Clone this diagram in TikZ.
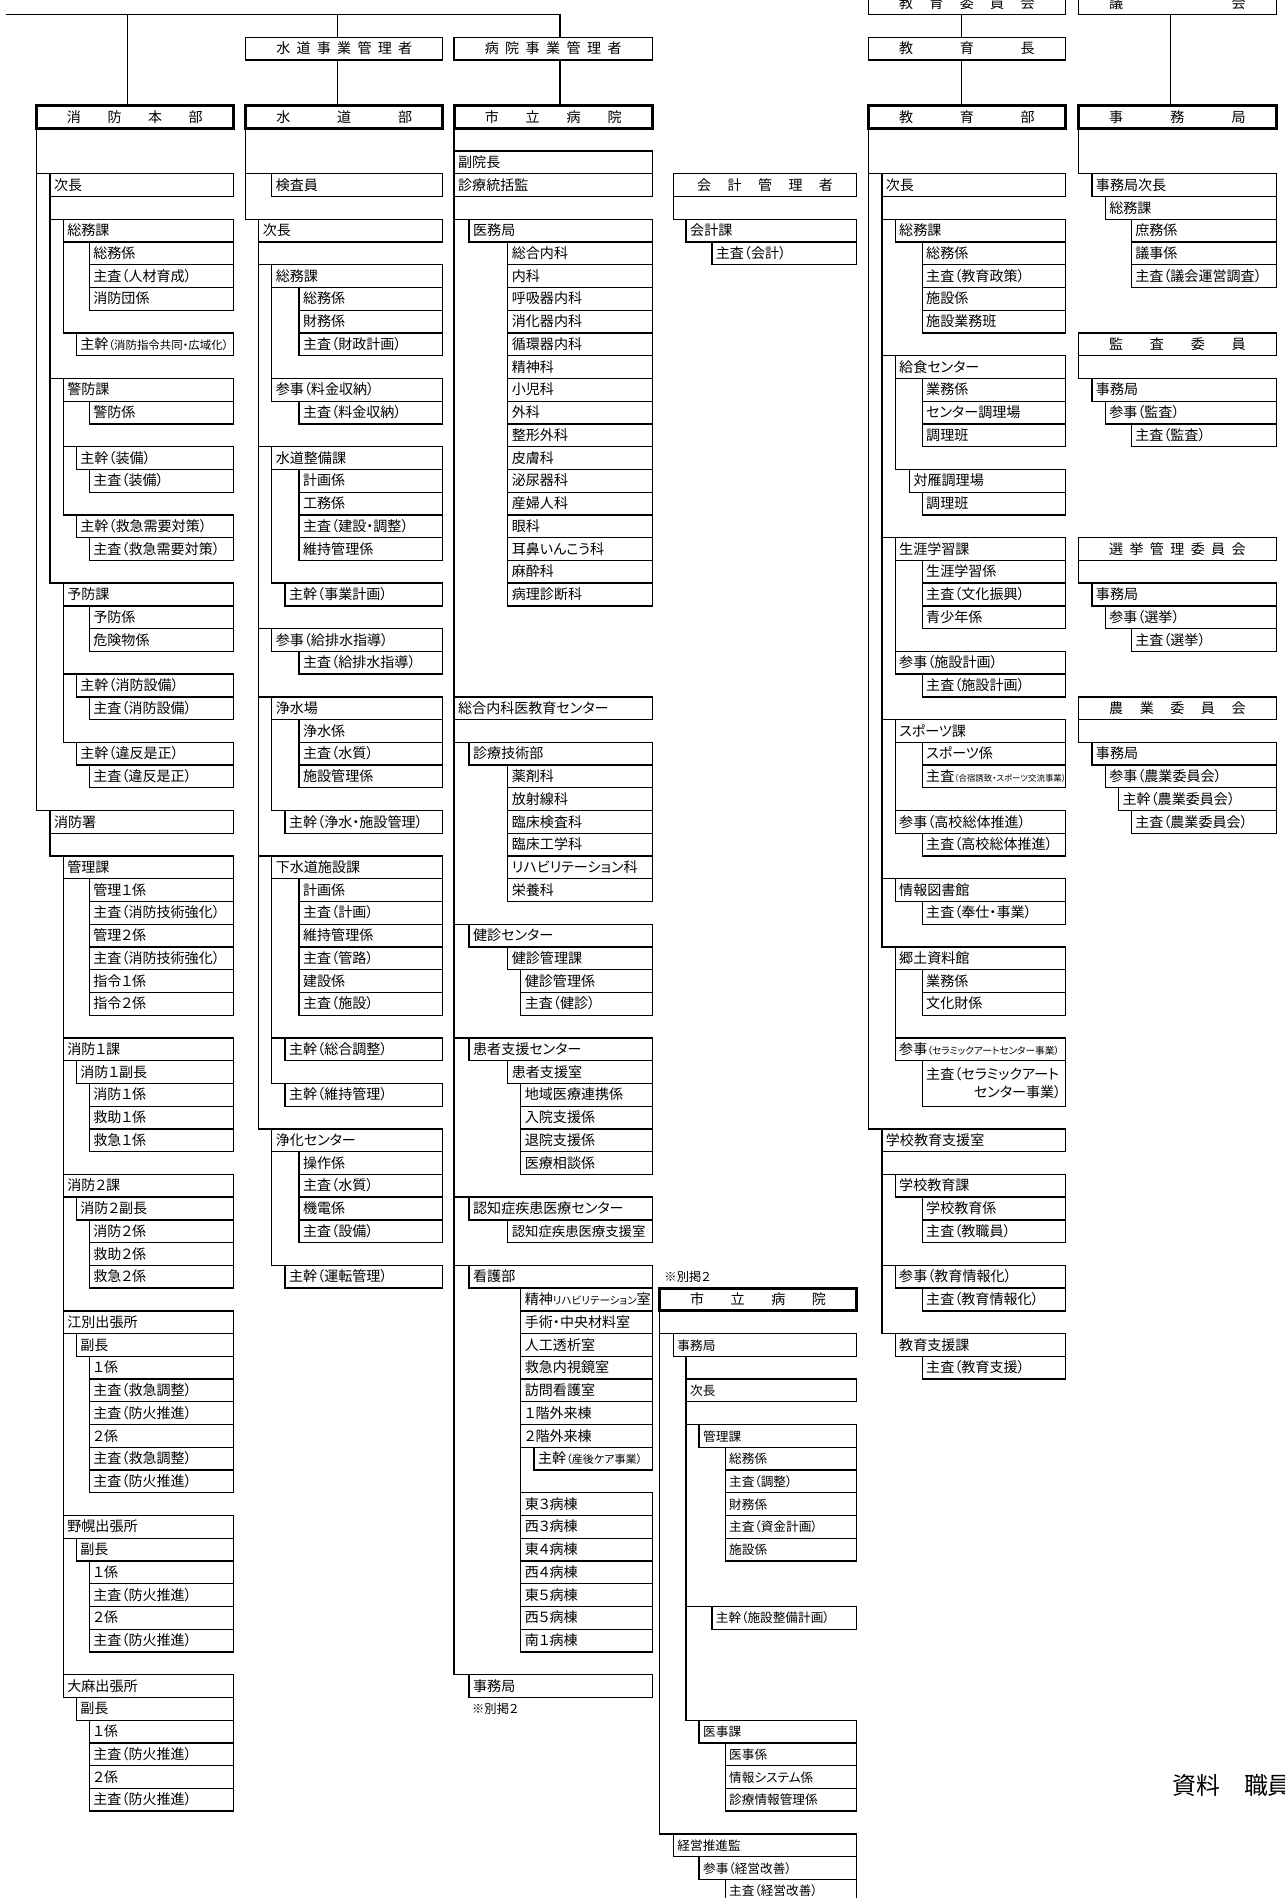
\documentclass[tikz,border=0pt]{standalone}
\usepackage{fontspec}
\setmainfont{Noto Sans CJK JP}[RawFeature=+palt]
\usepackage{tikz}

\tikzset{
  cell/.style={draw, line width=0.75pt, inner xsep=2.3pt, inner ysep=0pt, outer sep=0pt,
    minimum height=0.4548cm, text height=6.9pt, text depth=1.1pt, align=left,
    font=\fontsize{8}{9.6}\selectfont},
  head/.style={draw, line width=0.75pt, inner sep=0pt, outer sep=0pt,
    minimum height=0.4548cm, text height=6.9pt, text depth=1.1pt,
    font=\fontsize{8}{9.6}\selectfont},
  heavy/.style={line width=1.8pt},
  link/.style={line width=0.75pt},
  note/.style={inner sep=0pt, font=\fontsize{7}{8}\selectfont}
}

\newcommand{\sm}[2]{{\fontsize{#1}{#1}\selectfont #2}}
\newcommand{\bx}[5]{%
  \pgfmathsetlengthmacro{\bxw}{(#3-#2)*0.02cm-4.6pt}%
  \node[cell, text width=\bxw, anchor=west] (#1) at (#2,#4) {#5};}
\newcommand{\stk}[5]{%
  \foreach \lbl [count=\i from #4] in {#5} {\bx{#1\i}{#2}{#3}{\i}{\lbl}}}
\newcommand{\hd}[6][]{%
  \pgfmathsetlengthmacro{\hdw}{(#4-#3)*0.02cm}%
  \pgfmathsetlengthmacro{\hdt}{(#4-#3-61.3)*0.02cm}%
  \node[head, #1, minimum width=\hdw, anchor=west] (#2) at (#3,#5) {\hbox to \hdt{#6}};}

\begin{document}
\begin{tikzpicture}[x=0.02cm, y=-0.4548cm]
\useasboundingbox (0,-8.144) rectangle (1284,75.32);

% fire
\hd[heavy]{honbu}{36.3}{233.3}{-3}{消\hfill 防\hfill 本\hfill 部}
\bx{jicho1}{50}{233.3}{0}{次長}
\bx{soumuka1}{63.3}{233.3}{2}{総務課}
\stk{fa}{89.3}{233.3}{3}{総務係,主査（人材育成）,消防団係}
\bx{kansirei}{76.3}{233.3}{7}{主幹\sm{6.5}{（消防指令共同・広域化）}}
\bx{keibo}{63.3}{233.3}{9}{警防課}
\bx{keibokakari}{89.3}{233.3}{10}{警防係}
\bx{kansobi}{76.3}{233.3}{12}{主幹（装備）}
\bx{sasobi}{89.3}{233.3}{13}{主査（装備）}
\bx{kankyu}{76.3}{233.3}{15}{主幹（救急需要対策）}
\bx{sakyu}{89.3}{233.3}{16}{主査（救急需要対策）}
\bx{yobo}{63.3}{233.3}{18}{予防課}
\stk{fb}{89.3}{233.3}{19}{予防係,危険物係}
\bx{kansetsu}{76.3}{233.3}{22}{主幹（消防設備）}
\bx{sasetsu}{89.3}{233.3}{23}{主査（消防設備）}
\bx{kanihan}{76.3}{233.3}{25}{主幹（違反是正）}
\bx{saihan}{89.3}{233.3}{26}{主査（違反是正）}
\bx{syo}{50}{233.3}{28}{消防署}
\bx{kanrika}{63.3}{233.3}{30}{管理課}
\stk{fc}{89.3}{233.3}{31}{管理１係,主査（消防技術強化）,管理２係,主査（消防技術強化）,指令１係,指令２係}
\bx{sho1}{63.3}{233.3}{38}{消防１課}
\bx{sho1f}{76.3}{233.3}{39}{消防１副長}
\stk{fd}{89.3}{233.3}{40}{消防１係,救助１係,救急１係}
\bx{sho2}{63.3}{233.3}{44}{消防２課}
\bx{sho2f}{76.3}{233.3}{45}{消防２副長}
\stk{fe}{89.3}{233.3}{46}{消防２係,救助２係,救急２係}
\bx{ebetsu}{63.3}{233.3}{50}{江別出張所}
\bx{ebetsuf}{76.3}{233.3}{51}{副長}
\stk{ff}{89.3}{233.3}{52}{１係,主査（救急調整）,主査（防火推進）,２係,主査（救急調整）,主査（防火推進）}
\bx{nopporo}{63.3}{233.3}{59}{野幌出張所}
\bx{nopporof}{76.3}{233.3}{60}{副長}
\stk{fg}{89.3}{233.3}{61}{１係,主査（防火推進）,２係,主査（防火推進）}
\bx{ooasa}{63.3}{233.3}{66}{大麻出張所}
\bx{ooasaf}{76.3}{233.3}{67}{副長}
\stk{fh}{89.3}{233.3}{68}{１係,主査（防火推進）,２係,主査（防火推進）}

% water
\hd{suikan}{245.7}{442.7}{-6}{水\hfill 道\hfill 事\hfill 業\hfill 管\hfill 理\hfill 者}
\hd[heavy]{suidobu}{245.7}{442.7}{-3}{水\hfill 道\hfill 部}
\bx{kensa}{271.7}{442.7}{0}{検査員}
\bx{jicho2}{258.7}{442.7}{2}{次長}
\bx{soumuka2}{271.7}{442.7}{4}{総務課}
\stk{wa}{299}{442.7}{5}{総務係,財務係,主査（財政計画）}
\bx{sanryo}{271.7}{442.7}{9}{参事（料金収納）}
\bx{saryo}{299}{442.7}{10}{主査（料金収納）}
\bx{seibika}{271.7}{442.7}{12}{水道整備課}
\stk{wb}{299}{442.7}{13}{計画係,工務係,主査（建設・調整）,維持管理係}
\bx{kanjigyo}{285}{442.7}{18}{主幹（事業計画）}
\bx{sankyu}{271.7}{442.7}{20}{参事（給排水指導）}
\bx{sakyu2}{299}{442.7}{21}{主査（給排水指導）}
\bx{josuijo}{271.7}{442.7}{23}{浄水場}
\stk{wc}{299}{442.7}{24}{浄水係,主査（水質）,施設管理係}
\bx{kanjosui}{285}{442.7}{28}{主幹（浄水・施設管理）}
\bx{gesuika}{271.7}{442.7}{30}{下水道施設課}
\stk{wd}{299}{442.7}{31}{計画係,主査（計画）,維持管理係,主査（管路）,建設係,主査（施設）}
\bx{kansogo}{285}{442.7}{38}{主幹（総合調整）}
\bx{kanijikan}{285}{442.7}{40}{主幹（維持管理）}
\bx{joka}{271.7}{442.7}{42}{浄化センター}
\stk{we}{299}{442.7}{43}{操作係,主査（水質）,機電係,主査（設備）}
\bx{kanunten}{285}{442.7}{48}{主幹（運転管理）}

% hospital
\hd{byokan}{454}{652.3}{-6}{病\hfill 院\hfill 事\hfill 業\hfill 管\hfill 理\hfill 者}
\hd[heavy]{shiritsu}{454}{652.3}{-3}{市\hfill 立\hfill 病\hfill 院}
\bx{fukuin}{454}{652.3}{-1}{副院長}
\bx{tokatsu}{454}{652.3}{0}{診療統括監}
\bx{imukyoku}{469}{652.3}{2}{医務局}
\stk{ha}{507.7}{652.3}{3}{総合内科,内科,呼吸器内科,消化器内科,循環器内科,精神科,小児科,外科,整形外科,皮膚科,泌尿器科,産婦人科,眼科,耳鼻いんこう科,麻酔科,病理診断科}
\bx{kyoiku}{454}{652.3}{23}{総合内科医教育センター}
\bx{gijutsu}{469}{652.3}{25}{診療技術部}
\stk{hb}{507.7}{652.3}{26}{薬剤科,放射線科,臨床検査科,臨床工学科,リハビリテーション科,栄養科}
\bx{kenshin}{469}{652.3}{33}{健診センター}
\bx{kenshinka}{507.7}{652.3}{34}{健診管理課}
\stk{hc}{520.7}{652.3}{35}{健診管理係,主査（健診）}
\bx{kanja}{469}{652.3}{38}{患者支援センター}
\bx{kanjashitsu}{507.7}{652.3}{39}{患者支援室}
\stk{hx}{520.7}{652.3}{40}{地域医療連携係,入院支援係,退院支援係,医療相談係}
\bx{ninchi}{469}{652.3}{45}{認知症疾患医療センター}
\bx{ninchishitsu}{507.7}{652.3}{46}{\sm{7.6}{認知症疾患医療支援室}}
\bx{kango}{469}{652.3}{48}{看護部}
\stk{he}{520.7}{652.3}{49}{精神\sm{6}{リハビリテーション}室,手術・中央材料室,人工透析室,救急内視鏡室,訪問看護室,１階外来棟,２階外来棟}
\bx{sango}{534}{652.3}{56}{主幹\sm{6.3}{（産後ケア事業）}}
\stk{hf}{520.7}{652.3}{58}{東３病棟,西３病棟,東４病棟,西４病棟,東５病棟,西５病棟,南１病棟}
\bx{jimu3}{469}{652.3}{66}{事務局}
\node[note, anchor=west] (bekkei3) at (471.7,67) {※別掲２};

% accounts and hospital office
\node[head, anchor=west, minimum width=3.664cm] (kaikan) at (673.3,0) {\hbox to 2.72cm{会\hfill 計\hfill 管\hfill 理\hfill 者}\hspace{0.28cm}};
\bx{kaikeika}{686}{856.5}{2}{会計課}
\bx{sakaikei}{711.7}{856.5}{3}{主査（会計）}
\node[note, anchor=west] (bekkei4) at (664,48) {※別掲２};
\hd[heavy]{shiritsu2}{659.3}{856.5}{49}{市\hfill 立\hfill 病\hfill 院}
\begin{scope}[cell/.append style={font=\fontsize{7.2}{8.6}\selectfont}]
\bx{jimu4}{673.3}{856.5}{51}{事務局}
\bx{jicho4}{686}{856.5}{53}{次長}
\bx{kanrika4}{699}{856.5}{55}{管理課}
\stk{ka}{725}{856.5}{56}{総務係,主査（調整）,財務係,主査（資金計画）,施設係}
\bx{kanseibi}{711.7}{856.5}{63}{主幹（施設整備計画）}
\bx{ijika}{699}{856.5}{68}{医事課}
\stk{kb}{725}{856.5}{69}{医事係,情報システム係,診療情報管理係}
\bx{keiei}{673.3}{856.5}{73}{経営推進監}
\bx{sankeiei}{699}{856.5}{74}{参事（経営改善）}
\bx{sakeiei}{725}{856.5}{75}{主査（経営改善）}
\end{scope}

% education
\hd{iinkai}{868.3}{1065}{-8}{教\hfill 育\hfill 委\hfill 員\hfill 会}
\hd{kyoikucho}{868.3}{1065}{-6}{教\hfill 育\hfill 長}
\hd[heavy]{kyoikubu}{868.3}{1065}{-3}{教\hfill 育\hfill 部}
\bx{jicho5}{881.7}{1065}{0}{次長}
\bx{soumuka5}{895}{1065}{2}{総務課}
\stk{ea}{922}{1065}{3}{総務係,主査（教育政策）,施設係,施設業務班}
\bx{kyushoku}{895}{1065}{8}{給食センター}
\stk{eb}{922}{1065}{9}{業務係,センター調理場,調理班}
\bx{tsuishikari}{909.3}{1065}{13}{対雁調理場}
\bx{chorihan}{922}{1065}{14}{調理班}
\bx{shogai}{895}{1065}{16}{生涯学習課}
\stk{ec}{922}{1065}{17}{生涯学習係,主査（文化振興）,青少年係}
\bx{sanshisetsu}{895}{1065}{21}{参事（施設計画）}
\bx{sashisetsu}{922}{1065}{22}{主査（施設計画）}
\bx{sports}{895}{1065}{24}{スポーツ課}
\stk{ed}{922}{1065}{25}{スポーツ係,主査\sm{4.8}{（合宿誘致・スポーツ交流事業）}}
\bx{sankoso}{895}{1065}{28}{参事（高校総体推進）}
\bx{sakoso}{922}{1065}{29}{主査（高校総体推進）}
\bx{tosho}{895}{1065}{31}{情報図書館}
\bx{satosho}{922}{1065}{32}{主査（奉仕・事業）}
\bx{kyodo}{895}{1065}{34}{郷土資料館}
\stk{ee}{922}{1065}{35}{業務係,文化財係}
\bx{sanceramic}{895}{1065}{38}{参事\sm{5.5}{（セラミックアートセンター事業）}}
\node[cell, text width=76.8pt, anchor=west, minimum height=0.9096cm, text height=, text depth=,
  font=\fontsize{8}{10.3}\selectfont] (saceramic) at (922,39.5)
  {主査（セラミックアート\\\mbox{}\hskip 0pt plus 1filll センター事業）};
\bx{gakkoshien}{881.7}{1065}{42}{学校教育支援室}
\bx{gakkoka}{895}{1065}{44}{学校教育課}
\stk{ef}{922}{1065}{45}{学校教育係,主査（教職員）}
\bx{sanjoho}{895}{1065}{48}{参事（教育情報化）}
\bx{sajoho}{922}{1065}{49}{主査（教育情報化）}
\bx{shienka}{895}{1065}{51}{教育支援課}
\bx{sashien}{922}{1065}{52}{主査（教育支援）}

% assembly and committees
\hd{gikai}{1078.3}{1276}{-8}{議\hfill 会}
\hd[heavy]{jimu6}{1078.3}{1276}{-3}{事\hfill 務\hfill 局}
\bx{jimujicho}{1091.7}{1276}{0}{事務局次長}
\bx{soumuka6}{1105}{1276}{1}{総務課}
\stk{ga}{1131}{1276}{2}{庶務係,議事係,主査（議会運営調査）}
\hd{kansa}{1078.3}{1276}{7}{監\hfill 査\hfill 委\hfill 員}
\bx{jimu6b}{1091.7}{1276}{9}{事務局}
\bx{sankansa}{1105}{1276}{10}{参事（監査）}
\bx{sakansa}{1131}{1276}{11}{主査（監査）}
\hd{senkan}{1078.3}{1276}{16}{選\hfill 挙\hfill 管\hfill 理\hfill 委\hfill 員\hfill 会}
\bx{jimu6c}{1091.7}{1276}{18}{事務局}
\bx{sansenkyo}{1105}{1276}{19}{参事（選挙）}
\bx{sasenkyo}{1131}{1276}{20}{主査（選挙）}
\hd{nogyo}{1078.3}{1276}{23}{農\hfill 業\hfill 委\hfill 員\hfill 会}
\bx{jimu6d}{1091.7}{1276}{25}{事務局}
\bx{sannogyo}{1105}{1276}{26}{参事（農業委員会）}
\bx{kannogyo}{1118.3}{1276}{27}{主幹（農業委員会）}
\bx{sanogyo}{1131}{1276}{28}{主査（農業委員会）}

\node[anchor=west, inner sep=0pt, font=\fontsize{13.6}{14}\selectfont] (shiryo) at (1171.7,70.35) {資料　職員};

% connectors
\coordinate (t0) at (6,-7.5);
\coordinate (tfire) at (127.7,-7.5);
\coordinate (twater) at (337.7,-7.5);
\coordinate (thosp) at (560,-7.5);
\coordinate (xedu) at (961,0);
\coordinate (xgi) at (1170,0);
\draw[link] (t0) -- (thosp) -- (thosp |- byokan.north);
\draw[link] (tfire) -- (tfire |- honbu.north);
\draw[link] (twater) -- (twater |- suikan.north);
\draw[link] (twater |- suikan.south) -- (twater |- suidobu.north);
\draw[link] (thosp |- byokan.south) -- (thosp |- shiritsu.north);
\draw[link] (xedu |- iinkai.south) -- (xedu |- kyoikucho.north);
\draw[link] (xedu |- kyoikucho.south) -- (xedu |- kyoikubu.north);
\draw[link] (xgi |- gikai.south) -- (xgi |- jimu6.north);

\foreach \n in {jicho1,syo} \draw[link] (honbu.south west) |- (\n.north east);
\foreach \n in {soumuka1,keibo,yobo} \draw[link] (jicho1.south west) |- (\n.north east);
\draw[link] (soumuka1.south west) |- (kansirei.north east);
\foreach \n in {kansobi,kankyu} \draw[link] (keibo.south west) |- (\n.north east);
\foreach \n in {kansetsu,kanihan} \draw[link] (yobo.south west) |- (\n.north east);
\draw[link] (syo.south west) |- (kanrika.north east);
\draw[link] (kanrika.south west) -- (ooasa.north west);

\foreach \n in {kensa,jicho2} \draw[link] (suidobu.south west) |- (\n.north east);
\foreach \n in {soumuka2,seibika,sankyu,josuijo,gesuika,joka} \draw[link] (jicho2.south west) |- (\n.north east);
\draw[link] (soumuka2.south west) -- (sanryo.north west);
\draw[link] (seibika.south west) |- (kanjigyo.north east);
\draw[link] (josuijo.south west) |- (kanjosui.north east);
\foreach \n in {kansogo,kanijikan} \draw[link] (gesuika.south west) |- (\n.north east);
\draw[link] (joka.south west) |- (kanunten.north east);

\draw[link] (shiritsu.south west) -- (fukuin.north west);
\draw[link] (tokatsu.south west) |- (imukyoku.north east);
\draw[link] (tokatsu.south west) -- (kyoiku.north west);
\foreach \n in {gijutsu,kenshin,kanja,ninchi,kango,jimu3} \draw[link] (kyoiku.south west) |- (\n.north east);
\draw[link] (he55.south west) -- (hf58.north west);

\draw[link] (kaikan.south west) |- (kaikeika.north east);
\foreach \n in {jimu4,keiei} \draw[link] (shiritsu2.south west) |- (\n.north east);
\draw[link] (jicho4.north west |- jimu4.south) -- (jicho4.north west);
\foreach \n in {kanrika4,kanseibi,ijika} \draw[link] (jicho4.south west) |- (\n.north east);

\foreach \n in {jicho5,gakkoshien} \draw[link] (kyoikubu.south west) |- (\n.north east);
\foreach \n in {soumuka5,kyushoku,shogai,sports,tosho,kyodo} \draw[link] (jicho5.south west) |- (\n.north east);
\draw[link] (kyushoku.south west) |- (tsuishikari.north east);
\draw[link] (shogai.south west) -- (sanshisetsu.north west);
\draw[link] (sports.south west) -- (sankoso.north west);
\draw[link] (kyodo.south west) -- (sanceramic.north west);
\foreach \n in {gakkoka,sanjoho,shienka} \draw[link] (gakkoshien.south west) |- (\n.north east);

\draw[link] (jimu6.south west) |- (jimujicho.north east);
\draw[link] (kansa.south west) |- (jimu6b.north east);
\draw[link] (senkan.south west) |- (jimu6c.north east);
\draw[link] (nogyo.south west) |- (jimu6d.north east);
\end{tikzpicture}
\end{document}
